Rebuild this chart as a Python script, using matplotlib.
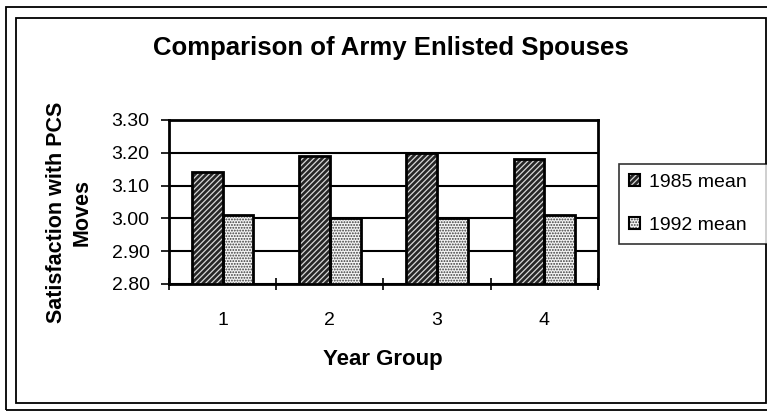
import matplotlib
matplotlib.use("Agg")
import matplotlib.pyplot as plt
from matplotlib.patches import Rectangle, Patch
from matplotlib.legend_handler import HandlerTuple
import numpy as np

# Data
year_groups = ["1", "2", "3", "4"]
mean_1985 = [3.14, 3.19, 3.20, 3.18]
mean_1992 = [3.01, 3.00, 3.00, 3.01]
series_labels = ["1985 mean", "1992 mean"]
y_ticks = [2.80, 2.90, 3.00, 3.10, 3.20, 3.30]

plt.rcParams["font.family"] = ["Liberation Sans", "DejaVu Sans"]
plt.rcParams["hatch.linewidth"] = 0.9

W, H = 767, 412
fig = plt.figure(figsize=(W / 100, H / 100), dpi=100)
fig.patch.set_facecolor("white")


def px(x, y):
    """Convert top-left pixel coordinates into figure fractions."""
    return x / W, 1 - y / H


# Plot area
ax_l, ax_r, ax_t, ax_b = 169, 598, 120, 284
ax = fig.add_axes([ax_l / W, 1 - ax_b / H, (ax_r - ax_l) / W, (ax_b - ax_t) / H])

x = np.arange(len(year_groups))
bw = 1 / 3.5  # Excel-style gap width of 150%

styles = [
    dict(face="#262626", hatch="//////", hcolor="#d8d8d8"),
    dict(face="#f4f4f4", hatch="......", hcolor="#3a3a3a"),
]
base = y_ticks[0]
for i, (vals, st) in enumerate(zip([mean_1985, mean_1992], styles)):
    xs = x - bw / 2 + i * bw
    heights = [v - base for v in vals]
    ax.bar(xs, heights, bw, bottom=base, color=st["face"], hatch=st["hatch"],
           edgecolor=st["hcolor"], linewidth=0, zorder=3)
    ax.bar(xs, heights, bw, bottom=base, fill=False, edgecolor="black",
           linewidth=2.0, zorder=4)

ax.set_xlim(-0.5, len(year_groups) - 0.5)
ax.set_ylim(y_ticks[0], y_ticks[-1])
ax.set_yticks(y_ticks)
ax.set_yticklabels([f"{t:.2f}" for t in y_ticks], fontsize=14)
ax.yaxis.grid(True, color="black", linewidth=1.5, zorder=1)
ax.set_axisbelow(True)

ax.set_xticks(x)
ax.set_xticklabels(year_groups, fontsize=14)
ax.set_xticks(np.arange(-0.5, len(year_groups)), minor=True)
ax.tick_params(axis="x", which="major", length=0, pad=20)
ax.tick_params(axis="x", which="minor", length=8, width=1.2, direction="inout")
ax.tick_params(axis="y", length=6, width=1.2, direction="out", pad=8)

for sp in ax.spines.values():
    sp.set_linewidth(2.0)
    sp.set_color("black")

# Titles
fig.text(*px(391, 48), "Comparison of Army Enlisted Spouses", fontsize=18.5,
         fontweight="bold", ha="center", va="center")
fig.text(*px(383, 359), "Year Group", fontsize=16, fontweight="bold",
         ha="center", va="center")
fig.text(*px(69, 212), "Satisfaction with PCS\nMoves", fontsize=15.5,
         fontweight="bold", ha="center", va="center", rotation=90,
         multialignment="center", linespacing=1.3)

# Legend
handles = []
for st in styles:
    h1 = Patch(facecolor=st["face"], hatch=st["hatch"], edgecolor=st["hcolor"], linewidth=0)
    h2 = Patch(fill=False, edgecolor="black", linewidth=1.5)
    handles.append((h1, h2))
lx, ly = px(619, 243)
lx2, ly2 = px(775, 165)
leg = fig.legend(handles, series_labels, loc="center left", mode="expand",
                 bbox_to_anchor=(lx, ly, lx2 - lx, ly2 - ly), fontsize=14,
                 frameon=True, fancybox=False, edgecolor="black",
                 handlelength=0.6, handleheight=0.6, handletextpad=0.45,
                 labelspacing=1.35, borderpad=0.5, borderaxespad=0,
                 handler_map={tuple: HandlerTuple(ndivide=1)})
leg.get_frame().set_linewidth(1.2)

# Chart frames
def frame(l, t, r, b, lw):
    x0, y1 = px(l, t)
    x1, y0 = px(r, b)
    fig.add_artist(Rectangle((x0, y0), x1 - x0, y1 - y0, transform=fig.transFigure,
                             fill=False, edgecolor="black", linewidth=lw, clip_on=False))

frame(6, 7, 790, 410, 1.3)
frame(16, 18, 766, 403, 1.3)

fig.savefig("out.png", dpi=100, facecolor="white")
